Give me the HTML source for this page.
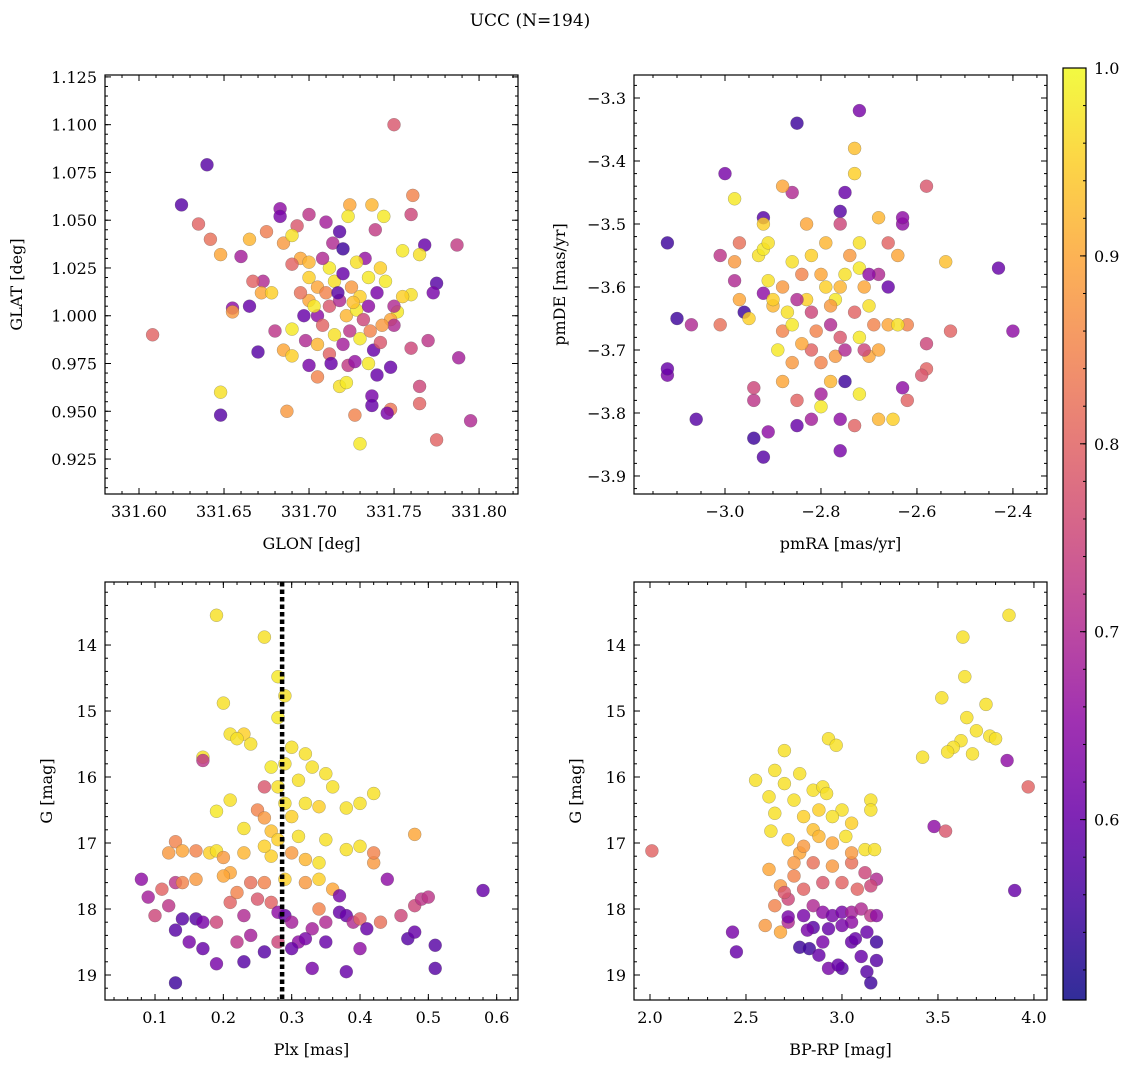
<!DOCTYPE html>
<html><head><meta charset="utf-8">
<style>
html,body{margin:0;padding:0;background:#fff;}
svg{display:block;font-family:"DejaVu Serif","Liberation Serif",serif;}
</style></head>
<body>
<svg id="fig" width="1136" height="1068" viewBox="0 0 1136 1068" xmlns="http://www.w3.org/2000/svg">
<text x="530" y="26" font-size="17" text-anchor="middle">UCC (N=194)</text>
</svg>
<script>
// ---- Panel 1: GLON vs GLAT ----
const p1X=[331.640,331.625,331.635,331.642,331.648,331.608,331.648,331.648,331.750,331.761,331.787,331.768,331.660,331.665,331.675,331.683,331.683,331.693,331.700,331.710,331.724,331.723,331.737,331.744,331.760,331.765,331.755,331.739,331.718,331.714,331.720,331.733,331.685,331.690,331.695,331.700,331.690,331.673,331.667,331.672,331.678,331.665,331.655,331.655,331.670,331.680,331.690,331.685,331.690,331.687,331.700,331.705,331.712,331.718,331.722,331.723,331.727,331.727,331.730,331.737,331.737,331.748,331.746,331.748,331.738,331.742,331.740,331.765,331.765,331.775,331.795,331.788,331.770,331.760,331.775,331.773,331.760,331.752,331.748,331.750,331.700,331.705,331.710,331.715,331.720,331.725,331.730,331.735,331.712,331.718,331.722,331.728,331.732,331.705,331.700,331.695,331.708,331.715,331.724,331.735,331.740,331.742,331.745,331.712,331.708,331.728,331.717,331.726,331.703,331.697,331.698,331.705,331.720,331.730,331.736,331.743,331.750,331.755,331.713,331.735];
const p1Y=[1.079,1.058,1.048,1.040,1.032,0.990,0.960,0.948,1.100,1.063,1.037,1.037,1.031,1.040,1.044,1.056,1.052,1.047,1.053,1.049,1.058,1.052,1.058,1.052,1.053,1.032,1.034,1.045,1.044,1.038,1.035,1.030,1.038,1.042,1.030,1.028,1.027,1.018,1.018,1.012,1.012,1.005,1.004,1.002,0.981,0.992,0.993,0.982,0.979,0.950,0.974,0.968,0.980,0.963,0.965,0.974,0.976,0.948,0.933,0.958,0.953,0.951,0.949,0.973,0.982,0.986,0.969,0.963,0.954,0.935,0.945,0.978,0.987,0.983,1.017,1.012,1.011,1.002,0.998,0.995,1.020,1.015,1.012,1.018,1.022,1.015,1.010,1.020,1.005,1.008,1.000,1.003,0.998,1.000,1.008,1.012,0.995,0.990,0.992,1.005,1.012,1.025,1.018,1.025,1.030,1.028,1.012,1.007,1.005,1.000,0.987,0.985,0.985,0.988,0.992,0.995,1.005,1.010,0.975,0.975];
const p1P=[0.58,0.58,0.8,0.82,0.9,0.8,0.97,0.58,0.78,0.85,0.73,0.6,0.68,0.92,0.84,0.65,0.62,0.78,0.72,0.68,0.9,0.98,0.92,0.98,0.75,0.97,0.98,0.73,0.58,0.7,0.55,0.66,0.88,0.97,0.9,0.92,0.8,0.7,0.8,0.9,0.95,0.6,0.65,0.88,0.58,0.72,0.98,0.9,0.95,0.88,0.62,0.85,0.8,0.97,0.98,0.73,0.66,0.85,0.98,0.62,0.6,0.83,0.62,0.6,0.6,0.78,0.6,0.75,0.8,0.8,0.7,0.68,0.72,0.75,0.58,0.62,0.97,0.98,0.9,0.7,0.95,0.9,0.85,0.97,0.6,0.88,0.95,0.98,0.78,0.7,0.92,0.98,0.75,0.65,0.9,0.82,0.8,0.97,0.72,0.65,0.62,0.95,0.98,0.98,0.7,0.97,0.58,0.93,0.98,0.6,0.7,0.92,0.68,0.98,0.85,0.88,0.7,0.95,0.6,0.98];
const p1XTicks=[331.60,331.65,331.70,331.75,331.80];
const p1YTicks=[0.925,0.950,0.975,1.000,1.025,1.050,1.075,1.100,1.125];

// ---- Panel 2: pmRA vs pmDE ----
const p2X=[-2.72,-2.85,-2.73,-2.73,-2.75,-2.86,-3.00,-2.98,-3.12,-2.92,-2.92,-2.88,-2.83,-2.76,-2.76,-2.68,-2.63,-2.63,-2.58,-2.54,-2.43,-2.40,-2.53,-2.58,-2.58,-2.59,-2.62,-2.62,-2.63,-2.65,-2.68,-2.70,-2.72,-2.75,-2.73,-2.76,-2.76,-2.80,-2.82,-2.85,-2.85,-2.88,-2.92,-2.94,-2.91,-2.94,-2.94,-3.06,-3.12,-3.12,-3.10,-3.07,-3.01,-3.01,-2.98,-2.98,-2.97,-2.97,-2.96,-2.95,-2.93,-2.92,-2.91,-2.91,-2.92,-2.90,-2.89,-2.88,-2.86,-2.84,-2.83,-2.82,-2.80,-2.79,-2.78,-2.77,-2.76,-2.75,-2.74,-2.72,-2.71,-2.70,-2.69,-2.68,-2.66,-2.66,-2.64,-2.64,-2.82,-2.80,-2.78,-2.77,-2.76,-2.81,-2.84,-2.86,-2.87,-2.85,-2.78,-2.73,-2.71,-2.90,-2.88,-2.86,-2.75,-2.72,-2.80,-2.82,-2.79,-2.72,-2.70,-2.66,-2.68];
const p2Y=[-3.32,-3.34,-3.38,-3.42,-3.45,-3.45,-3.42,-3.46,-3.53,-3.49,-3.50,-3.44,-3.50,-3.48,-3.50,-3.49,-3.50,-3.49,-3.44,-3.56,-3.57,-3.67,-3.67,-3.69,-3.73,-3.74,-3.66,-3.78,-3.76,-3.81,-3.81,-3.71,-3.77,-3.75,-3.82,-3.86,-3.81,-3.77,-3.81,-3.82,-3.78,-3.75,-3.87,-3.84,-3.83,-3.78,-3.76,-3.81,-3.74,-3.73,-3.65,-3.66,-3.66,-3.55,-3.59,-3.56,-3.53,-3.62,-3.64,-3.65,-3.55,-3.54,-3.53,-3.59,-3.61,-3.63,-3.70,-3.67,-3.56,-3.58,-3.62,-3.64,-3.58,-3.60,-3.66,-3.62,-3.60,-3.58,-3.55,-3.57,-3.60,-3.63,-3.66,-3.58,-3.60,-3.66,-3.66,-3.55,-3.70,-3.72,-3.75,-3.71,-3.68,-3.67,-3.69,-3.72,-3.64,-3.62,-3.63,-3.64,-3.70,-3.62,-3.60,-3.66,-3.70,-3.68,-3.79,-3.55,-3.53,-3.53,-3.58,-3.53,-3.70];
const p2P=[0.62,0.55,0.93,0.95,0.6,0.7,0.62,0.98,0.55,0.58,0.95,0.9,0.9,0.58,0.75,0.92,0.65,0.65,0.78,0.93,0.6,0.65,0.8,0.75,0.8,0.78,0.85,0.8,0.65,0.95,0.92,0.9,0.98,0.55,0.8,0.62,0.65,0.68,0.68,0.6,0.8,0.9,0.58,0.55,0.65,0.72,0.75,0.58,0.62,0.6,0.55,0.7,0.82,0.72,0.7,0.88,0.82,0.9,0.55,0.95,0.97,0.98,0.97,0.97,0.65,0.92,0.98,0.85,0.97,0.85,0.95,0.75,0.9,0.95,0.7,0.98,0.92,0.97,0.88,0.98,0.9,0.97,0.85,0.7,0.6,0.9,0.97,0.9,0.8,0.85,0.92,0.88,0.78,0.85,0.9,0.88,0.97,0.7,0.88,0.8,0.75,0.95,0.88,0.98,0.7,0.98,0.98,0.95,0.92,0.97,0.65,0.8,0.9];
const p2XTicks=[-3.0,-2.8,-2.6,-2.4];
const p2YTicks=[-3.9,-3.8,-3.7,-3.6,-3.5,-3.4,-3.3];

// ---- Panel 3: Plx vs G ----
const p3X=[0.19,0.26,0.28,0.29,0.20,0.28,0.23,0.21,0.22,0.24,0.17,0.17,0.30,0.32,0.29,0.33,0.35,0.27,0.31,0.28,0.26,0.21,0.36,0.42,0.29,0.32,0.34,0.38,0.40,0.19,0.25,0.26,0.30,0.27,0.28,0.31,0.35,0.23,0.13,0.12,0.14,0.16,0.18,0.19,0.20,0.23,0.27,0.26,0.30,0.32,0.34,0.38,0.40,0.42,0.42,0.48,0.44,0.34,0.32,0.29,0.26,0.24,0.21,0.20,0.16,0.13,0.14,0.11,0.08,0.09,0.10,0.12,0.14,0.16,0.17,0.19,0.21,0.22,0.23,0.25,0.27,0.28,0.29,0.30,0.31,0.30,0.33,0.34,0.35,0.37,0.38,0.39,0.40,0.41,0.43,0.46,0.48,0.49,0.50,0.47,0.48,0.51,0.51,0.58,0.40,0.38,0.35,0.33,0.32,0.26,0.24,0.22,0.23,0.19,0.17,0.15,0.13,0.13,0.28,0.36,0.37];
const p3Y=[13.55,13.88,14.48,14.77,14.88,15.1,15.35,15.35,15.42,15.50,15.70,15.75,15.55,15.65,15.80,15.85,15.95,15.85,16.05,16.15,16.15,16.35,16.15,16.25,16.4,16.4,16.45,16.47,16.4,16.52,16.5,16.62,16.6,16.82,16.95,16.9,16.95,16.78,16.98,17.15,17.12,17.12,17.15,17.12,17.22,17.15,17.2,17.05,17.15,17.25,17.3,17.1,17.05,17.3,17.15,16.87,17.55,17.55,17.6,17.55,17.6,17.6,17.45,17.5,17.55,17.6,17.6,17.7,17.55,17.82,18.1,17.95,18.15,18.15,18.2,18.2,17.9,17.75,18.1,17.85,17.9,18.05,18.1,18.2,18.5,18.6,18.3,18.0,18.2,18.05,18.1,18.2,18.15,18.3,18.2,18.1,17.95,17.85,17.82,18.45,18.35,18.55,18.9,17.72,18.6,18.95,18.5,18.9,18.45,18.65,18.4,18.5,18.8,18.83,18.6,18.5,18.32,19.12,18.5,17.7,17.8];
const p3P=[0.97,0.97,0.98,0.97,0.97,0.98,0.95,0.97,0.97,0.97,0.97,0.72,0.97,0.97,0.97,0.97,0.97,0.98,0.97,0.97,0.78,0.97,0.97,0.97,0.97,0.97,0.95,0.97,0.97,0.98,0.85,0.88,0.95,0.93,0.95,0.97,0.97,0.97,0.85,0.88,0.9,0.85,0.95,0.97,0.88,0.92,0.95,0.95,0.88,0.92,0.97,0.97,0.97,0.88,0.85,0.9,0.65,0.95,0.88,0.95,0.85,0.82,0.9,0.9,0.88,0.72,0.85,0.8,0.65,0.68,0.75,0.72,0.58,0.58,0.62,0.75,0.8,0.85,0.7,0.78,0.8,0.65,0.6,0.68,0.65,0.6,0.68,0.85,0.7,0.6,0.6,0.7,0.8,0.6,0.82,0.75,0.75,0.72,0.72,0.58,0.6,0.58,0.58,0.6,0.65,0.6,0.6,0.62,0.62,0.58,0.68,0.72,0.58,0.62,0.6,0.62,0.58,0.55,0.75,0.9,0.62];
const p3XTicks=[0.1,0.2,0.3,0.4,0.5,0.6];
const p3YTicks=[14,15,16,17,18,19];
const p3Line=[0.286];

// ---- Panel 4: BP-RP vs G ----
const p4X=[3.87,3.63,3.64,3.52,3.75,3.65,3.70,3.77,3.80,3.62,3.58,3.55,3.68,3.42,3.86,3.97,3.48,3.54,3.90,2.01,2.43,2.45,2.70,2.93,2.97,2.78,2.65,2.55,2.70,2.62,2.75,2.85,2.90,2.92,3.15,3.15,3.05,2.88,2.80,2.65,2.63,2.72,2.85,2.95,3.02,3.12,3.17,2.78,2.75,2.62,2.68,2.75,2.85,2.95,3.05,3.12,3.18,3.15,3.08,3.00,2.90,2.80,2.72,2.65,2.60,2.68,2.72,2.72,2.80,2.85,2.90,2.95,3.00,3.05,3.10,3.15,3.18,3.05,3.00,2.93,2.85,2.82,2.78,2.83,2.90,2.93,3.00,3.05,3.07,3.10,3.13,3.15,3.18,3.18,3.13,2.98,2.88,2.80,3.00,2.95,2.88,3.05,2.70];
const p4Y=[13.55,13.88,14.48,14.8,14.9,15.1,15.3,15.38,15.42,15.45,15.55,15.62,15.65,15.7,15.75,16.15,16.75,16.82,17.72,17.12,18.35,18.65,15.6,15.42,15.52,15.95,15.9,16.05,16.1,16.3,16.35,16.2,16.15,16.25,16.35,16.5,16.7,16.5,16.6,16.55,16.82,16.95,16.8,17.0,16.9,17.1,17.1,17.15,17.3,17.4,17.65,17.5,17.3,17.35,17.3,17.45,17.55,17.65,17.7,17.6,17.6,17.7,17.85,17.95,18.25,18.35,18.2,18.12,18.1,17.95,18.05,18.1,18.05,18.05,18.0,18.1,18.1,18.2,18.25,18.3,18.28,18.32,18.58,18.6,18.5,18.9,18.9,18.5,18.45,18.72,18.95,19.12,18.78,18.5,18.35,18.85,18.7,17.05,16.5,16.6,16.9,17.15,17.75];
const p4P=[0.97,0.97,0.97,0.97,0.97,0.97,0.97,0.97,0.97,0.97,0.97,0.97,0.97,0.97,0.65,0.8,0.65,0.78,0.6,0.8,0.62,0.6,0.97,0.97,0.97,0.97,0.97,0.97,0.97,0.97,0.97,0.97,0.97,0.97,0.97,0.97,0.95,0.95,0.95,0.97,0.97,0.95,0.93,0.9,0.97,0.97,0.97,0.9,0.88,0.9,0.88,0.85,0.82,0.88,0.82,0.75,0.7,0.75,0.8,0.8,0.78,0.8,0.75,0.85,0.88,0.9,0.7,0.62,0.62,0.7,0.65,0.62,0.62,0.68,0.7,0.72,0.65,0.65,0.62,0.6,0.58,0.62,0.55,0.55,0.62,0.62,0.58,0.6,0.6,0.6,0.58,0.55,0.58,0.55,0.6,0.6,0.6,0.88,0.97,0.97,0.92,0.88,0.78];
const p4XTicks=[2.0,2.5,3.0,3.5,4.0];
const p4YTicks=[14,15,16,17,18,19];

// ---- Colorbar ----
const cbTicks=[0.6,0.7,0.8,0.9,1.0];
const cbRange=[0.504,1.0];

const NS="http://www.w3.org/2000/svg";
const svg=document.getElementById('fig');
function mk(tag,attrs,parent){const e=document.createElementNS(NS,tag);for(const k in attrs)e.setAttribute(k,attrs[k]);(parent||svg).appendChild(e);return e;}
const plasma=[[13,8,135],[65,4,157],[106,0,168],[143,13,164],[177,42,144],[204,71,120],[225,100,98],[242,132,75],[252,166,54],[252,206,37],[240,249,33]];
function cmap(v){let t=(v-cbRange[0])/(cbRange[1]-cbRange[0]);t=Math.max(0,Math.min(1,t));const f=t*10,i=Math.min(9,Math.floor(f)),r=f-i;const a=plasma[i],b=plasma[i+1];return 'rgb('+a.map((c,k)=>Math.round(c+(b[k]-c)*r)).join(',')+')';}
function lin(d0,d1,r0,r1){return v=>r0+(v-d0)/(d1-d0)*(r1-r0);}
const FS=16;

function panel(o){
  const g=mk('g',{});
  
  
  const sx=lin(o.xd[0],o.xd[1],o.L,o.R), sy=lin(o.yd[0],o.yd[1],o.B,o.T);
  const clip=mk('clipPath',{id:'c'+o.name},g);mk('rect',{x:o.L,y:o.T,width:o.R-o.L,height:o.B-o.T},clip);
  const pts=mk('g',{'clip-path':'url(#c'+o.name+')'},g);
  
  
  for(let i=0;i<o.x.length;i++){
    const c=mk('circle',{cx:sx(o.x[i]).toFixed(1),cy:sy(o.y[i]).toFixed(1),r:6.5,fill:cmap(o.p[i]),'fill-opacity':0.82,stroke:'#555','stroke-width':0.4,'stroke-opacity':0.6},pts);
    
    
  }
  if(o.vline){o.vline.forEach(v=>{const l=mk('line',{x1:sx(v),x2:sx(v),y1:o.T,y2:o.B,stroke:'#000','stroke-width':4.5,'stroke-dasharray':'4.5,3'},g);
    
    });}
  mk('rect',{x:o.L,y:o.T,width:o.R-o.L,height:o.B-o.T,fill:'none',stroke:'#000','stroke-width':1.2},g);
  const xmin=Math.min(o.xd[0],o.xd[1]),xmax=Math.max(o.xd[0],o.xd[1]);
  for(let k=Math.ceil(xmin/o.xm-1e-6);k*o.xm<=xmax+1e-9;k++){const v=k*o.xm,px=sx(v);
    mk('line',{x1:px,x2:px,y1:o.B,y2:o.B-3,stroke:'#000'},g);mk('line',{x1:px,x2:px,y1:o.T,y2:o.T+3,stroke:'#000'},g);}
  o.xt.forEach(v=>{const px=sx(v);
    mk('line',{x1:px,x2:px,y1:o.B,y2:o.B-6,stroke:'#000'},g);mk('line',{x1:px,x2:px,y1:o.T,y2:o.T+6,stroke:'#000'},g);
    const t=mk('text',{x:px,y:o.B+23,'font-size':FS,'text-anchor':'middle'},g);t.textContent=(v<0?'\u2212':'')+Math.abs(v).toFixed(o.xf);
    
    });
  const ymin=Math.min(o.yd[0],o.yd[1]),ymax=Math.max(o.yd[0],o.yd[1]);
  for(let k=Math.ceil(ymin/o.ym-1e-6);k*o.ym<=ymax+1e-9;k++){const v=k*o.ym,py=sy(v);
    mk('line',{x1:o.L,x2:o.L+3,y1:py,y2:py,stroke:'#000'},g);mk('line',{x1:o.R,x2:o.R-3,y1:py,y2:py,stroke:'#000'},g);}
  o.yt.forEach(v=>{const py=sy(v);
    mk('line',{x1:o.L,x2:o.L+6,y1:py,y2:py,stroke:'#000'},g);mk('line',{x1:o.R,x2:o.R-6,y1:py,y2:py,stroke:'#000'},g);
    const t=mk('text',{x:o.L-8,y:py+6,'font-size':FS,'text-anchor':'end'},g);t.textContent=(v<0?'\u2212':'')+Math.abs(v).toFixed(o.yf);
    
    });
  const xl=mk('text',{x:(o.L+o.R)/2,y:o.B+55,'font-size':FS,'text-anchor':'middle'},g);xl.textContent=o.xlab;
  
  
  const yx=o.L-o.ylo, yy=(o.T+o.B)/2;
  const yl=mk('text',{x:yx,y:yy,'font-size':FS,'text-anchor':'middle',transform:'rotate(-90 '+yx+' '+yy+')'},g);yl.textContent=o.ylab;
  
  
}
panel({name:'glon-glat-panel',L:105,R:518,T:75,B:494,xd:[331.580,331.8229],yd:[0.9067,1.126],x:p1X,y:p1Y,p:p1P,xt:p1XTicks,yt:p1YTicks,xm:0.01,ym:0.005,xf:2,yf:3,xlab:'GLON [deg]',ylab:'GLAT [deg]',ylo:83});
panel({name:'pm-panel',L:634,R:1047,T:75,B:494,xd:[-3.1896,-2.329],yd:[-3.9286,-3.2635],x:p2X,y:p2Y,p:p2P,xt:p2XTicks,yt:p2YTicks,xm:0.05,ym:0.02,xf:1,yf:1,xlab:'pmRA [mas/yr]',ylab:'pmDE [mas/yr]',ylo:69});
panel({name:'plx-g-panel',L:105,R:518,T:582,B:1000,xd:[0.0268,0.6312],yd:[19.379,13.045],x:p3X,y:p3Y,p:p3P,xt:p3XTicks,yt:p3YTicks,xm:0.02,ym:0.2,xf:1,yf:0,xlab:'Plx [mas]',ylab:'G [mag]',ylo:53,vline:p3Line});
panel({name:'cmd-panel',L:634,R:1047,T:582,B:1000,xd:[1.9167,4.068],yd:[19.379,13.045],x:p4X,y:p4Y,p:p4P,xt:p4XTicks,yt:p4YTicks,xm:0.1,ym:0.2,xf:1,yf:0,xlab:'BP-RP [mag]',ylab:'G [mag]',ylo:53});

(function(){
  const L=1063,R=1086,T=68,B=1000;
  const g=mk('g',{});
  
  
  const defs=mk('defs',{},g);const lg=mk('linearGradient',{id:'cbg',x1:0,y1:1,x2:0,y2:0},defs);
  for(let i=0;i<=20;i++){const v=cbRange[0]+(cbRange[1]-cbRange[0])*i/20;mk('stop',{offset:(i/20),'stop-color':cmap(v),'stop-opacity':0.85},lg);}
  mk('rect',{x:L,y:T,width:R-L,height:B-T,fill:'url(#cbg)',stroke:'#000','stroke-width':1.2},g);
  const sy=lin(cbRange[0],cbRange[1],B,T);
  for(let k=Math.ceil(cbRange[0]/0.02);k*0.02<=cbRange[1]+1e-9;k++){const py=sy(k*0.02);mk('line',{x1:R,x2:R-3,y1:py,y2:py,stroke:'#000'},g);}
  cbTicks.forEach(v=>{const py=sy(v);mk('line',{x1:R,x2:R-6,y1:py,y2:py,stroke:'#000'},g);
    const t=mk('text',{x:R+8,y:py+6,'font-size':FS},g);t.textContent=v.toFixed(1);
    
    });
})();
</script>
</body></html>
